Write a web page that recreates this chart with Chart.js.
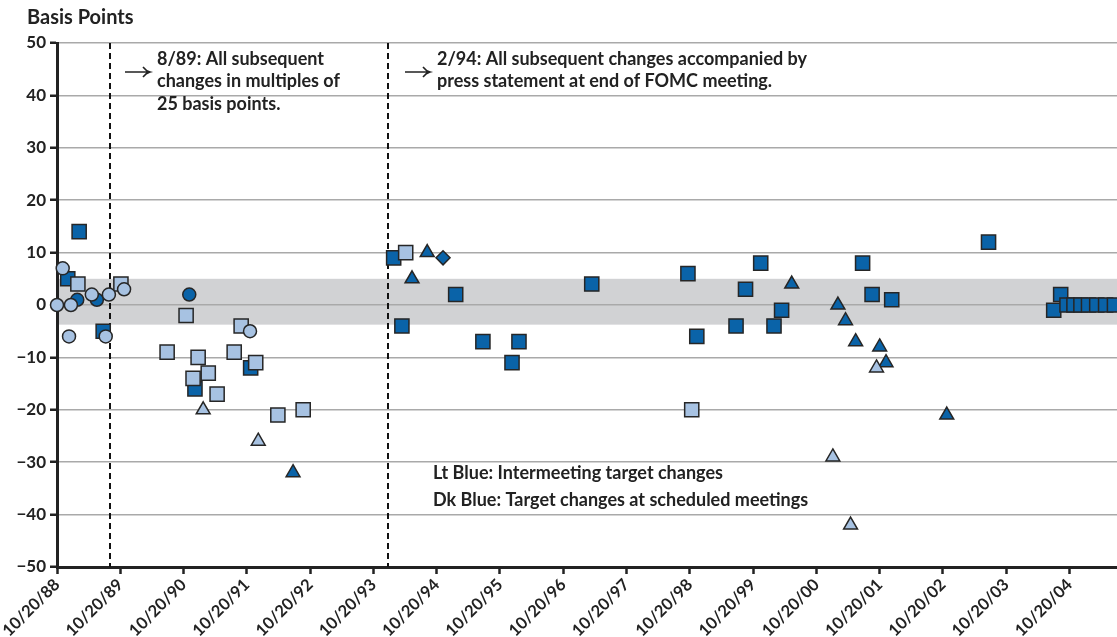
<!DOCTYPE html>
<html>
<head>
<meta charset="utf-8">
<script src="https://cdn.jsdelivr.net/npm/chart.js@4.4.1/dist/chart.umd.min.js"></script>
<style>
  body { margin: 0; background: #fff; }
  #wrap { width: 1117px; height: 637px; }
</style>
</head>
<body>
<div id="wrap"><canvas id="chart" width="1117" height="637"></canvas></div>
<script>
// x = date as decimal year, y = basis points
const tickYears = [1988.8, 1989.8, 1990.8, 1991.8, 1992.8, 1993.8, 1994.8, 1995.8,
                   1996.8, 1997.8, 1998.8, 1999.8, 2000.8, 2001.8, 2002.8, 2003.8, 2004.8];
const tickLabels = ['10/20/88', '10/20/89', '10/20/90', '10/20/91', '10/20/92', '10/20/93',
                    '10/20/94', '10/20/95', '10/20/96', '10/20/97', '10/20/98', '10/20/99',
                    '10/20/00', '10/20/01', '10/20/02', '10/20/03', '10/20/04'];

// light blue = intermeeting changes, dark blue = scheduled meetings
const ltCircleX = [1988.80, 1988.89, 1989.02, 1988.99, 1989.35, 1989.62, 1989.57, 1989.86, 1991.85];
const ltCircleY = [0, 7, 0, -6, 2, 2, -6, 3, -5];

const dkCircleX = [1989.12, 1989.43, 1990.89];
const dkCircleY = [1, 1, 2];

const ltSquareX = [1989.13, 1989.81, 1990.84, 1991.71, 1990.54, 1991.03, 1991.60, 1991.94,
                   1990.95, 1991.19, 1991.33, 1992.29, 1992.69, 1994.31, 1998.83];
const ltSquareY = [4, 4, -2, -4, -9, -10, -9, -11, -14, -13, -17, -21, -20, 10, -20];

const dkSquareX = [1989.15, 1988.97, 1989.53, 1990.98, 1991.86, 1994.12, 1994.25, 1995.10,
                   1995.53, 1996.10, 1995.99, 1997.25, 1998.77, 1998.91, 1999.53, 1999.68,
                   1999.92, 2000.13, 2000.25, 2001.53, 2001.68, 2001.99, 2003.52, 2004.55,
                   2004.66, 2004.76, 2004.87, 2004.98, 2005.10, 2005.23, 2005.37, 2005.51];
const dkSquareY = [14, 5, -5, -16, -12, 9, -4, 2,
                   -7, -7, -11, 4, 6, -6, -4, 3,
                   8, -4, -1, 8, 2, 1, 12, -1,
                   2, 0, 0, 0, 0, 0, 0, 0];

const ltTriangleX = [1991.11, 1991.98, 2001.06, 2001.34, 2001.75];
const ltTriangleY = [-20, -26, -29, -42, -12];

const dkTriangleX = [1992.53, 1994.41, 1994.65, 2000.41, 2001.14, 2001.26, 2001.42,
                     2001.80, 2001.90, 2002.86];
const dkTriangleY = [-32, 5, 10, 4, 0, -3, -7, -8, -11, -21];

const dkDiamondX = [1994.90];
const dkDiamondY = [9];

const bandTop = 5;
const bandBottom = -3.75;
const markerLines = [1989.64, 1994.03];

const LT = '#a7c2e2';
const DK = '#0a63a8';
const EDGE = '#262626';
const FONT = "Lato, 'Open Sans', sans-serif";

function pts(xs, ys) {
    return xs.map((x, i) => ({ x: x, y: ys[i] }));
}

function series(xs, ys, color, shape, radius) {
    return {
        data: pts(xs, ys),
        backgroundColor: color,
        borderColor: EDGE,
        borderWidth: 1.5,
        pointStyle: shape,
        pointRadius: radius,
        pointHoverRadius: radius,
        clip: false
    };
}

// thin arrow in front of the notes
function arrow(ctx, x, y) {
    ctx.beginPath();
    ctx.moveTo(x, y);
    ctx.lineTo(x + 25, y);
    ctx.moveTo(x + 18, y - 5);
    ctx.quadraticCurveTo(x + 21, y - 1, x + 25, y);
    ctx.quadraticCurveTo(x + 21, y + 1, x + 18, y + 5);
    ctx.stroke();
}

// shaded band, dashed lines and text
const decorations = {
    id: 'decorations',
    beforeDraw(chart) {
        const { ctx, chartArea, scales } = chart;
        const y1 = scales.y.getPixelForValue(bandTop);
        const y2 = scales.y.getPixelForValue(bandBottom);
        ctx.save();
        ctx.fillStyle = '#d1d2d4';
        ctx.fillRect(chartArea.left, y1, chartArea.right - chartArea.left, y2 - y1);
        ctx.restore();
    },
    beforeDatasetsDraw(chart) {
        const { ctx, chartArea, scales } = chart;
        ctx.save();
        ctx.strokeStyle = '#111';
        ctx.lineWidth = 2;
        ctx.setLineDash([6, 4]);
        markerLines.forEach(v => {
            const x = Math.round(scales.x.getPixelForValue(v));
            ctx.beginPath();
            ctx.moveTo(x, chartArea.top);
            ctx.lineTo(x, chartArea.bottom);
            ctx.stroke();
        });
        ctx.restore();
    },
    afterDraw(chart) {
        const { ctx } = chart;
        ctx.save();
        ctx.fillStyle = '#222';
        ctx.textBaseline = 'middle';
        ctx.textAlign = 'left';
        ctx.font = 'bold 20px ' + FONT;
        ctx.fillText('Basis Points', 27, 18);

        ctx.font = 'bold 18px ' + FONT;
        ctx.fillText('8/89: All subsequent', 157, 59);
        ctx.fillText('changes in multiples of', 157, 81);
        ctx.fillText('25 basis points.', 157, 104);
        ctx.fillText('2/94: All subsequent changes accompanied by', 437, 59);
        ctx.fillText('press statement at end of FOMC meeting.', 437, 81);
        ctx.fillText('Lt Blue: Intermeeting target changes', 433, 473);
        ctx.fillText('Dk Blue: Target changes at scheduled meetings', 433, 500);

        ctx.strokeStyle = '#222';
        ctx.lineWidth = 1.5;
        arrow(ctx, 125, 72);
        arrow(ctx, 405, 72);
        ctx.restore();
    }
};

new Chart(document.getElementById('chart'), {
    type: 'scatter',
    data: {
        datasets: [
            series(ltCircleX, ltCircleY, LT, 'circle', 6.5),
            series(dkCircleX, dkCircleY, DK, 'circle', 6.5),
            series(dkDiamondX, dkDiamondY, DK, 'rectRot', 7),
            series(ltTriangleX, ltTriangleY, LT, 'triangle', 8),
            series(dkTriangleX, dkTriangleY, DK, 'triangle', 8),
            series(ltSquareX, ltSquareY, LT, 'rect', 10),
            series(dkSquareX, dkSquareY, DK, 'rect', 10)
        ]
    },
    options: {
        responsive: false,
        animation: false,
        layout: { autoPadding: false, padding: { top: 43, left: 0, right: 0, bottom: 0 } },
        plugins: {
            legend: { display: false },
            tooltip: { enabled: false }
        },
        scales: {
            x: {
                type: 'linear',
                min: 1988.8,
                max: 2005.55,
                afterBuildTicks: (scale) => {
                    scale.ticks = tickYears.map(v => ({ value: v }));
                },
                afterFit: (scale) => {
                    scale.height = 70;
                    scale.paddingLeft = 0;
                    scale.paddingRight = 0;
                },
                grid: {
                    drawOnChartArea: false,
                    drawTicks: true,
                    tickLength: 7,
                    tickColor: '#222',
                    tickWidth: 2.5
                },
                border: { color: '#222', width: 3 },
                ticks: {
                    autoSkip: false,
                    minRotation: 45,
                    maxRotation: 45,
                    padding: 1,
                    color: '#222',
                    font: { family: FONT, size: 16.5, weight: 'bold' },
                    callback: (v, i) => tickLabels[i]
                }
            },
            y: {
                min: -50,
                max: 50,
                afterFit: (scale) => { scale.width = 57; },
                grid: {
                    color: '#a9a9a9',
                    lineWidth: 1.5,
                    drawTicks: true,
                    tickLength: 7,
                    tickColor: '#222',
                    tickWidth: 2.5
                },
                border: { color: '#222', width: 3 },
                ticks: {
                    stepSize: 10,
                    padding: 4,
                    color: '#222',
                    font: { family: FONT, size: 17, weight: 'bold' },
                    callback: (v) => String(v).replace('-', '\u2212')
                }
            }
        }
    },
    plugins: [decorations]
});
</script>
</body>
</html>
